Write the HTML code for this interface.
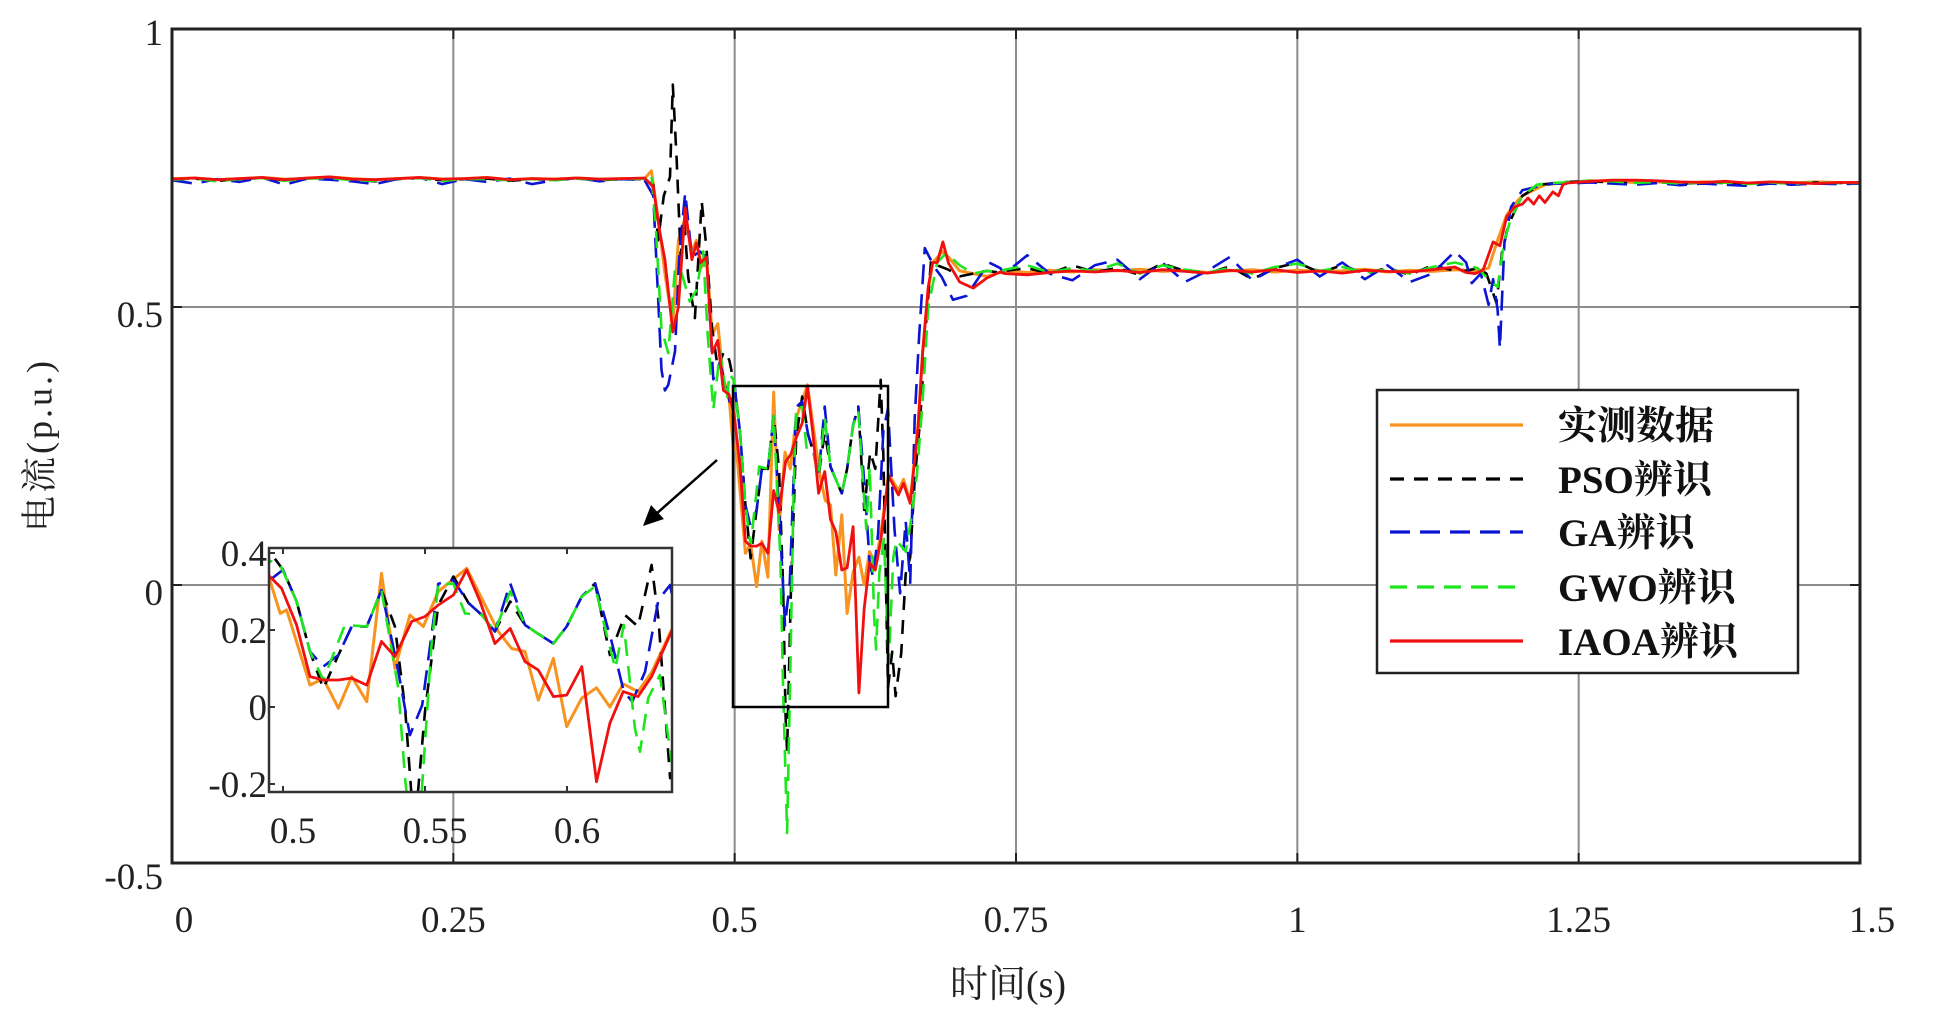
<!DOCTYPE html>
<html><head><meta charset="utf-8"><style>
html,body{margin:0;padding:0;background:#fff;}
svg{display:block;font-family:"Liberation Serif","Noto Serif CJK SC","Noto Sans CJK SC",serif;}
</style></head><body>
<svg id="chart" width="1934" height="1028" xmlns="http://www.w3.org/2000/svg">
<rect x="0" y="0" width="1934" height="1028" fill="#fff"/>
<defs>
<clipPath id="mainClip"><rect x="172" y="29" width="1688" height="834"/></clipPath>
<clipPath id="insetClip"><rect x="269" y="548" width="403" height="244"/></clipPath>
</defs>
<g id="grid"></g>
<g id="mainSeries" clip-path="url(#mainClip)"></g>
<rect x="172" y="29" width="1688" height="834" fill="none" stroke="#222" stroke-width="3"/>
<g id="ticks"></g>
<rect x="733" y="386" width="155" height="321" fill="none" stroke="#000" stroke-width="2.5"/>
<g>
<line x1="717" y1="460" x2="655" y2="515" stroke="#000" stroke-width="2.5"/>
<polygon points="643,526 651,505 664,519" fill="#000"/>
</g>
<rect x="269" y="548" width="403" height="244" fill="#fff"/>
<g id="insetSeries" clip-path="url(#insetClip)"></g>
<rect x="269" y="548" width="403" height="244" fill="none" stroke="#333" stroke-width="2.5"/>
<g id="insetTicks"></g>
<text x="43" y="445" font-size="36" letter-spacing="3" text-anchor="middle" transform="rotate(-90 43 445)" dominant-baseline="middle" fill="#222">电流(p.u.)</text>
<text x="1008" y="997" font-size="38" text-anchor="middle" fill="#222">时间(s)</text>
<g>
<rect x="1377" y="390" width="421" height="283" fill="#fff" stroke="#222" stroke-width="2.5"/>
<g id="legendItems"></g>
</g>
</svg>
<script>
const preT = [0,0.02,0.04,0.06,0.08,0.10,0.12,0.14,0.16,0.18,0.20,0.22,0.24,0.26,0.28,0.30,0.32,0.34,0.36,0.38,0.40,0.42];
const platT = [0.74,0.76,0.78,0.80,0.82,0.84,0.86,0.88,0.90,0.92,0.94,0.96,0.98,1.00,1.02,1.04,1.06,1.08,1.10,1.12,1.14];
const postT = [1.24,1.26,1.28,1.30,1.32,1.34,1.36,1.38,1.40,1.42,1.44,1.46,1.48,1.50];

const measPreV = [0.731,0.732,0.729,0.731,0.733,0.73,0.731,0.734,0.731,0.729,0.731,0.733,0.73,0.731,0.733,0.729,0.731,0.73,0.732,0.73,0.731,0.731];
const measTrT = [0.426,0.432,0.438,0.445,0.45,0.456,0.462,0.466,0.47,0.475,0.48,0.485,0.49,0.4948,0.499,0.5013,0.5095,0.5142,0.5195,0.5242,0.5295,0.5347,0.5394,0.5447,0.5494,0.5547,0.5647,0.5758,0.5805,0.5852,0.5899,0.5952,0.5999,0.6052,0.6104,0.6151,0.6198,0.625,0.6298,0.6368,0.6455,0.65,0.656,0.663,0.667,0.672,0.676,0.685,0.69,0.70,0.712,0.724];
const measTrV = [0.745,0.66,0.56,0.47,0.62,0.66,0.6,0.62,0.57,0.59,0.45,0.47,0.37,0.343,0.243,0.252,0.057,0.074,-0.003,0.079,0.014,0.347,0.10,0.239,0.209,0.30,0.36,0.196,0.152,0.144,0.018,0.126,-0.051,0.023,0.05,0.0,0.06,0.04,0.09,0.20,0.17,0.19,0.15,0.29,0.42,0.53,0.58,0.6,0.59,0.565,0.56,0.555];
const measPlatV = [0.565,0.562,0.566,0.563,0.567,0.565,0.568,0.564,0.566,0.562,0.565,0.567,0.563,0.566,0.564,0.565,0.568,0.563,0.566,0.564,0.567];
const measRiseT = [1.15,1.16,1.17,1.178,1.186,1.193,1.2,1.21,1.22,1.23];
const measRiseV = [0.566,0.565,0.57,0.62,0.665,0.685,0.7,0.71,0.72,0.722];
const measPostV = [0.724,0.727,0.726,0.724,0.725,0.723,0.725,0.724,0.722,0.724,0.723,0.725,0.724,0.724];

const psoPreV = [0.73,0.731,0.727,0.73,0.732,0.728,0.73,0.733,0.729,0.726,0.73,0.732,0.728,0.73,0.731,0.727,0.73,0.729,0.731,0.728,0.73,0.73];
const psoTrT = [0.4277,0.432,0.437,0.4425,0.445,0.4485,0.452,0.455,0.4587,0.4647,0.4707,0.475,0.48,0.485,0.4904,0.494,0.4954,0.5,0.5048,0.5095,0.5142,0.5195,0.5242,0.5295,0.5347,0.5394,0.543,0.5453,0.5466,0.55,0.5547,0.56,0.5653,0.57,0.5746,0.58,0.5852,0.5899,0.5952,0.5999,0.6052,0.6099,0.6151,0.6204,0.625,0.6298,0.6322,0.6363,0.64,0.643,0.648,0.652,0.656,0.66,0.665,0.67,0.6746,0.68,0.69,0.70,0.712,0.724,0.736];
const psoTrV = [0.72,0.62,0.7,0.734,0.9,0.764,0.59,0.66,0.554,0.48,0.69,0.605,0.46,0.39,0.42,0.41,0.403,0.356,0.274,0.144,0.048,0.135,0.209,0.209,0.304,0.209,-0.003,-0.237,-0.3,-0.012,0.265,0.339,0.27,0.239,0.196,0.274,0.213,0.19,0.165,0.209,0.287,0.321,0.135,0.239,0.209,0.369,0.23,-0.185,-0.12,-0.2,-0.123,0.02,0.05,0.19,0.3,0.47,0.584,0.575,0.567,0.555,0.56,0.565,0.562];
const psoPlatV = [0.565,0.57,0.56,0.575,0.563,0.57,0.558,0.578,0.565,0.56,0.573,0.55,0.57,0.58,0.562,0.575,0.56,0.57,0.558,0.575,0.565];
const psoRiseT = [1.15,1.16,1.168,1.177,1.182,1.188,1.195,1.2,1.208,1.215,1.225,1.235];
const psoRiseV = [0.565,0.57,0.56,0.507,0.6,0.65,0.68,0.7,0.71,0.72,0.722,0.725];
const psoPostV = [0.725,0.726,0.724,0.722,0.725,0.721,0.724,0.723,0.72,0.724,0.722,0.724,0.723,0.723];

const gaPreV = [0.728,0.722,0.73,0.725,0.733,0.72,0.731,0.729,0.726,0.721,0.73,0.733,0.721,0.73,0.725,0.731,0.721,0.728,0.732,0.726,0.73,0.728];
const gaTrT = [0.4277,0.435,0.438,0.441,0.447,0.451,0.456,0.462,0.469,0.475,0.481,0.487,0.493,0.4954,0.5,0.5048,0.5095,0.5142,0.5195,0.5242,0.5295,0.5347,0.5406,0.5447,0.549,0.5547,0.56,0.5653,0.57,0.5746,0.58,0.5852,0.5899,0.5952,0.5999,0.6052,0.6099,0.6157,0.62,0.623,0.6275,0.6322,0.6363,0.642,0.647,0.652,0.656,0.66,0.664,0.669,0.673,0.678,0.684,0.694,0.706,0.716,0.726,0.736];
const gaTrV = [0.7,0.387,0.35,0.36,0.42,0.6,0.705,0.59,0.6,0.59,0.37,0.4,0.35,0.33,0.356,0.274,0.144,0.105,0.135,0.209,0.209,0.304,0.092,-0.073,0.005,0.32,0.33,0.27,0.239,0.196,0.321,0.213,0.19,0.165,0.209,0.287,0.321,0.17,0.04,0.014,0.092,0.278,0.317,0.1,-0.015,0.115,0.004,0.3,0.45,0.606,0.59,0.57,0.554,0.513,0.52,0.55,0.58,0.57];
const gaPlatV = [0.56,0.593,0.56,0.548,0.575,0.585,0.55,0.58,0.545,0.565,0.59,0.548,0.57,0.585,0.555,0.58,0.55,0.575,0.545,0.56,0.6];
const gaRiseT = [1.15,1.155,1.163,1.17,1.174,1.178,1.18,1.184,1.19,1.2,1.21,1.218,1.228];
const gaRiseV = [0.58,0.543,0.56,0.504,0.55,0.495,0.426,0.615,0.68,0.71,0.715,0.719,0.722];
const gaPostV = [0.722,0.724,0.722,0.72,0.723,0.719,0.722,0.72,0.718,0.722,0.72,0.722,0.721,0.722];

const gwoPreV = [0.729,0.731,0.726,0.73,0.732,0.727,0.731,0.732,0.728,0.727,0.731,0.732,0.727,0.73,0.73,0.728,0.73,0.728,0.731,0.729,0.73,0.731];
const gwoTrT = [0.426,0.43,0.435,0.441,0.447,0.453,0.46,0.466,0.472,0.476,0.481,0.487,0.493,0.4954,0.499,0.5048,0.5095,0.5142,0.5218,0.5295,0.5347,0.5406,0.543,0.5466,0.549,0.5523,0.5547,0.56,0.5641,0.57,0.5746,0.58,0.5852,0.5899,0.5952,0.5999,0.6052,0.6099,0.6134,0.617,0.62,0.6239,0.6257,0.6286,0.6327,0.6368,0.641,0.644,0.648,0.652,0.657,0.662,0.667,0.672,0.68,0.688,0.7,0.712,0.724,0.736];
const gwoTrV = [0.74,0.64,0.46,0.417,0.57,0.56,0.51,0.53,0.6,0.45,0.315,0.42,0.333,0.38,0.369,0.274,0.144,0.07,0.213,0.209,0.304,0.048,-0.185,-0.446,-0.203,0.161,0.32,0.32,0.243,0.239,0.196,0.30,0.213,0.19,0.165,0.209,0.287,0.313,0.204,0.1,0.213,-0.055,-0.116,0.023,0.083,-0.142,0.05,0.081,0.07,0.06,0.12,0.2,0.33,0.5,0.58,0.597,0.575,0.56,0.565,0.563];
const gwoPlatV = [0.567,0.575,0.562,0.57,0.565,0.578,0.56,0.575,0.567,0.562,0.57,0.56,0.572,0.578,0.565,0.572,0.562,0.568,0.56,0.572,0.58];
const gwoRiseT = [1.15,1.16,1.17,1.178,1.184,1.19,1.2,1.213,1.225,1.235];
const gwoRiseV = [0.575,0.57,0.55,0.536,0.62,0.66,0.7,0.72,0.723,0.724];
const gwoPostV = [0.725,0.727,0.726,0.723,0.725,0.722,0.724,0.724,0.721,0.724,0.722,0.724,0.723,0.723];

const iaoaPreV = [0.73,0.732,0.729,0.731,0.733,0.729,0.732,0.734,0.73,0.729,0.731,0.733,0.73,0.731,0.733,0.729,0.731,0.73,0.732,0.73,0.731,0.732];
const iaoaTrT = [0.4277,0.433,0.438,0.445,0.45,0.456,0.462,0.466,0.47,0.475,0.48,0.485,0.49,0.4948,0.4995,0.5048,0.5095,0.5142,0.5195,0.5242,0.5295,0.5347,0.5394,0.5453,0.55,0.5547,0.56,0.5647,0.5694,0.5746,0.58,0.5852,0.5899,0.5952,0.5999,0.6052,0.6104,0.6151,0.6198,0.625,0.6298,0.6368,0.6455,0.65,0.656,0.663,0.667,0.672,0.676,0.68,0.685,0.69,0.7,0.712,0.724,0.736];
const iaoaTrV = [0.716,0.64,0.585,0.455,0.5,0.678,0.585,0.615,0.58,0.59,0.417,0.44,0.35,0.343,0.308,0.213,0.079,0.07,0.07,0.075,0.057,0.17,0.131,0.222,0.235,0.265,0.291,0.356,0.274,0.165,0.204,0.118,0.096,0.027,0.031,0.105,-0.194,-0.042,0.04,0.027,0.079,0.196,0.162,0.183,0.147,0.284,0.417,0.536,0.58,0.58,0.617,0.579,0.545,0.534,0.552,0.563];
const iaoaPlatV = [0.56,0.558,0.562,0.565,0.563,0.566,0.562,0.567,0.564,0.561,0.566,0.563,0.567,0.562,0.565,0.561,0.566,0.564,0.563,0.567,0.572];
const iaoaRiseT = [1.15,1.158,1.165,1.174,1.18,1.186,1.193,1.2,1.205,1.21,1.215,1.22,1.227,1.232,1.236];
const iaoaRiseV = [0.562,0.56,0.566,0.617,0.61,0.662,0.68,0.685,0.696,0.685,0.7,0.688,0.707,0.7,0.72];
const iaoaPostV = [0.723,0.726,0.728,0.728,0.727,0.725,0.724,0.726,0.723,0.725,0.724,0.722,0.724,0.724];

const seriesNames = ["实测数据","PSO辨识","GA辨识","GWO辨识","IAOA辨识"];
const xTicks = [0,0.25,0.5,0.75,1,1.25,1.5];
const xTickLabels = ["0","0.25","0.5","0.75","1","1.25","1.5"];
const yTicks = [-0.5,0,0.5,1];
const yTickLabels = ["-0.5","0","0.5","1"];
const insetXTicks = [0.5,0.55,0.6];
const insetXTickLabels = ["0.5","0.55","0.6"];
const insetYTicks = [-0.2,0,0.2,0.4];
const insetYTickLabels = ["-0.2","0","0.2","0.4"];

const NS = "http://www.w3.org/2000/svg";
const X0=172, X1=1860, Y0=29, Y1=863;
const xMain = t => X0 + (t-0)/(1.5-0)*(X1-X0);
const yMain = v => Y1 - (v-(-0.5))/(1-(-0.5))*(Y1-Y0);
const xIn = t => 283 + (t-0.5)*2840;
const yIn = v => 707 - v*385;

function mk(tag, attrs, parent){
  const e=document.createElementNS(NS,tag);
  for(const k in attrs) e.setAttribute(k,attrs[k]);
  parent.appendChild(e); return e;
}
const styles = [
  {color:"#f7931e", dash:"", w:3},
  {color:"#000000", dash:"14,10", w:2.6},
  {color:"#0a14d2", dash:"20,10", w:2.6},
  {color:"#1ee61e", dash:"17,10", w:2.6},
  {color:"#f01010", dash:"", w:2.8}
];
const allT = [
  preT.concat(measTrT, platT, measRiseT, postT),
  preT.concat(psoTrT, platT, psoRiseT, postT),
  preT.concat(gaTrT, platT, gaRiseT, postT),
  preT.concat(gwoTrT, platT, gwoRiseT, postT),
  preT.concat(iaoaTrT, platT, iaoaRiseT, postT)
];
const allV = [
  measPreV.concat(measTrV, measPlatV, measRiseV, measPostV),
  psoPreV.concat(psoTrV, psoPlatV, psoRiseV, psoPostV),
  gaPreV.concat(gaTrV, gaPlatV, gaRiseV, gaPostV),
  gwoPreV.concat(gwoTrV, gwoPlatV, gwoRiseV, gwoPostV),
  iaoaPreV.concat(iaoaTrV, iaoaPlatV, iaoaRiseV, iaoaPostV)
];
const seriesKeys = ["measured","pso","ga","gwo","iaoa"];

const grid=document.getElementById("grid");
xTicks.forEach((t,i)=>{ if(i>0&&i<xTicks.length-1){
  const l=mk("line",{x1:xMain(t),x2:xMain(t),y1:Y0,y2:Y1,stroke:"#8c8c8c","stroke-width":2},grid);
  
  
}});
yTicks.forEach((v,i)=>{ if(i>0&&i<yTicks.length-1){
  const l=mk("line",{x1:X0,x2:X1,y1:yMain(v),y2:yMain(v),stroke:"#8c8c8c","stroke-width":2},grid);
  
  
}});

function drawSeries(parent, xs, ys, prefix){
  for(let s=0;s<5;s++){
    const T=allT[s], V=allV[s];
    const n=Math.min(T.length,V.length);
    let d="";
    for(let i=0;i<n;i++) d+=(i?"L":"M")+xs(T[i]).toFixed(1)+","+ys(V[i]).toFixed(1);
    const p=mk("path",{d:d,fill:"none",stroke:styles[s].color,"stroke-width":styles[s].w,"stroke-linejoin":"round"},parent);
    if(styles[s].dash) p.setAttribute("stroke-dasharray",styles[s].dash);
    
    
  }
}
drawSeries(document.getElementById("mainSeries"), xMain, yMain, "main");
drawSeries(document.getElementById("insetSeries"), xIn, yIn, "inset");

const ticks=document.getElementById("ticks");
xTicks.forEach((t,i)=>{
  mk("line",{x1:xMain(t),x2:xMain(t),y1:Y1,y2:Y1-10,stroke:"#222","stroke-width":2},ticks);
  mk("line",{x1:xMain(t),x2:xMain(t),y1:Y0,y2:Y0+10,stroke:"#222","stroke-width":2},ticks);
  const tx=mk("text",{x:xMain(t)+(i===0?12:(i===xTicks.length-1?12:0)),y:932,"font-size":37,"text-anchor":"middle",fill:"#222"},ticks);
  tx.textContent=xTickLabels[i];
  
  
});
yTicks.forEach((v,i)=>{
  mk("line",{x1:X0,x2:X0+10,y1:yMain(v),y2:yMain(v),stroke:"#222","stroke-width":2},ticks);
  mk("line",{x1:X1,x2:X1-10,y1:yMain(v),y2:yMain(v),stroke:"#222","stroke-width":2},ticks);
  const tx=mk("text",{x:163,y:yMain(v)+(i===0?26:(i===yTicks.length-1?16:20)),"font-size":37,"text-anchor":"end",fill:"#222"},ticks);
  tx.textContent=yTickLabels[i];
  
  
});
const it=document.getElementById("insetTicks");
insetXTicks.forEach((t,i)=>{
  mk("line",{x1:xIn(t),x2:xIn(t),y1:792,y2:786,stroke:"#333","stroke-width":2},it);
  mk("line",{x1:xIn(t),x2:xIn(t),y1:548,y2:554,stroke:"#333","stroke-width":2},it);
  const tx=mk("text",{x:xIn(t)+10,y:843,"font-size":37,"text-anchor":"middle",fill:"#222"},it);
  tx.textContent=insetXTickLabels[i];
  
  
});
insetYTicks.forEach((v,i)=>{
  mk("line",{x1:269,x2:275,y1:yIn(v),y2:yIn(v),stroke:"#333","stroke-width":2},it);
  const tx=mk("text",{x:267,y:yIn(v)+13,"font-size":37,"text-anchor":"end",fill:"#222"},it);
  tx.textContent=insetYTickLabels[i];
  
  
});

const lg=document.getElementById("legendItems");
const legY=[425,479,532,587,641];
seriesNames.forEach((nm,i)=>{
  const g=mk("g",{},lg);
  
  
  const l=mk("line",{x1:1390,x2:1523,y1:legY[i],y2:legY[i],stroke:styles[i].color,"stroke-width":3.2},g);
  if(styles[i].dash) l.setAttribute("stroke-dasharray",styles[i].dash);
  const tx=mk("text",{x:1558,y:legY[i]+14,"font-size":39,"font-weight":"bold",fill:"#111"},g);
  tx.textContent=nm;
});
</script>
</body></html>
